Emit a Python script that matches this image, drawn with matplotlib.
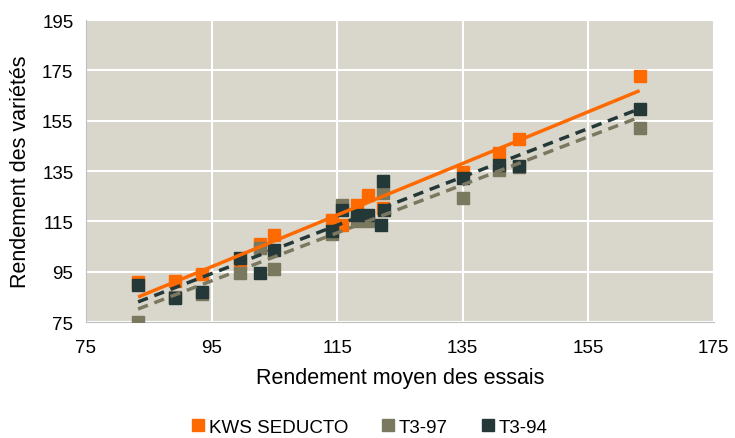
import numpy as np
import matplotlib
matplotlib.use("Agg")
import matplotlib.pyplot as plt
from matplotlib.lines import Line2D

plt.rcParams['font.family'] = ['Liberation Sans', 'DejaVu Sans']

# rendement moyen des essais (x) et rendement de chaque variete (y)
essais = [83.3, 89.2, 93.5, 99.5, 102.7, 105.0, 114.2, 115.8, 118.2, 119.9,
          122.3, 135.0, 140.8, 144.0, 163.2]
kws_seducto = [91.0, 91.3, 94.1, 98.5, 106.0, 109.7, 115.6, 113.6, 121.6, 125.6,
               120.5, 134.5, 142.2, 147.8, 172.7]
t3_97 = [75.0, 85.0, 86.0, 94.6, 104.4, 96.0, 110.0, 121.6, 115.0, 115.0,
         126.3, 124.3, 135.5, 136.5, 152.2]
t3_94 = [89.7, 84.4, 87.1, 100.4, 94.6, 103.7, 111.0, 119.6, 117.6, 117.6,
         130.9, 132.3, 137.5, 137.0, 159.5]
t3_94_extra_x = [122.0, 122.5]
t3_94_extra_y = [113.6, 119.6]

c_kws = '#FF6A00'
c_97 = '#7B7860'
c_94 = '#243838'

fig = plt.figure(figsize=(7.35, 4.39), dpi=100)
ax = fig.add_axes([0.117, 0.264, 0.854, 0.688])
ax.set_facecolor('#D9D6CC')

ms = 9
ax.plot(essais, kws_seducto, 's', color=c_kws, ms=ms, zorder=3)
ax.plot(essais, t3_97, 's', color=c_97, ms=ms, zorder=3)
ax.plot(essais, t3_94, 's', color=c_94, ms=ms, zorder=3)
ax.plot(t3_94_extra_x, t3_94_extra_y, 's', color=c_94, ms=ms, zorder=3)

# courbes de tendance lineaires
xs = np.array([min(essais), max(essais)])
for ys, col, ls in [(t3_97, c_97, (0, (3, 2))), (t3_94, c_94, (0, (3, 2))),
                    (kws_seducto, c_kws, '-')]:
    a, b = np.polyfit(essais, ys, 1)
    ax.plot(xs, a * xs + b, color=col, lw=2.5, ls=ls, zorder=4,
            solid_capstyle='butt', dash_capstyle='butt')

ax.set_xlim(75, 175)
ax.set_ylim(75, 195)
ax.set_xticks(range(75, 176, 20))
ax.set_yticks(range(75, 196, 20))
ax.grid(True, color='white', lw=1.5)
ax.set_axisbelow(True)
for s in ['top', 'right']:
    ax.spines[s].set_visible(False)
for s in ['left', 'bottom']:
    ax.spines[s].set_color('#BFBFBF')
ax.tick_params(axis='x', length=0, labelsize=13.5, pad=12)
ax.tick_params(axis='y', length=0, labelsize=13.5, pad=9)
ax.set_xlabel('Rendement moyen des essais', fontsize=15.5, labelpad=8)
ax.set_ylabel('Rendement des variétés', fontsize=15.5, labelpad=8)

handles = [Line2D([], [], marker='s', ls='none', color=c, ms=9) for c in (c_kws, c_97, c_94)]
fig.legend(handles, ['KWS SEDUCTO', 'T3-97', 'T3-94'], loc='lower center',
           bbox_to_anchor=(0.5, -0.034), ncol=3, frameon=False, fontsize=13.5,
           handletextpad=0.0, columnspacing=1.6, handlelength=1.1)

fig.savefig('out.png', dpi=100)
